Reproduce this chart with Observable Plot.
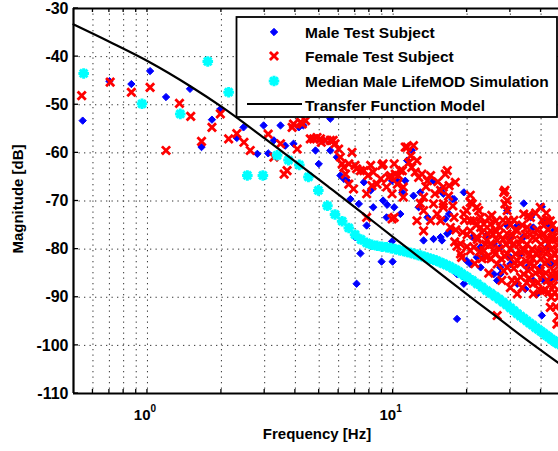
<!DOCTYPE html>
<html><head><meta charset="utf-8">
<script src="https://cdn.jsdelivr.net/npm/d3@7"></script>
<script src="https://cdn.jsdelivr.net/npm/@observablehq/plot@0.6"></script>
<style>html,body{margin:0;padding:0;background:#fff}svg{display:block}</style>
</head><body><div id="chart"></div>
<script>
// ---- data (frequency Hz, magnitude dB) ----
const seriesNames = ["Male Test Subject", "Female Test Subject", "Median Male LifeMOD Simulation", "Transfer Function Model"];
const yTicks = [-110, -100, -90, -80, -70, -60, -50, -40, -30];
const xLabelTicks = [1, 10];
const xLabelExponents = ["0", "1"];
const xGridTicks = [0.6, 0.7, 0.8, 0.9, 1, 2, 3, 4, 5, 6, 7, 8, 9, 10, 20, 30, 40];

const maleSubject = [[0.545,-53.3],[0.70,-45.1],[0.86,-45.7],[1.025,-43.0],[1.19,-48.4],[1.49,-46.7],[1.66,-58.8],[1.83,-53.1],[1.98,-50.9],[2.31,-56.9],[2.46,-54.7],[2.8,-60.2],[2.97,-54.3],[3.1,-60.1],[3.27,-57.4],[3.48,-54.3],[3.64,-58.5],[3.93,-58.1],[4.13,-54.7],[4.31,-54.3],[4.83,-59.5],[4.98,-62.3],[5.2,-57.4],[5.55,-59.5],[5.55,-52.9],[5.9,-60.9],[6.1,-64.7],[6.3,-65.4],[6.5,-65.8],[6.7,-69.6],[7.0,-77.5],[7.1,-87.2],[7.25,-70.6],[7.36,-80.9],[7.6,-66.1],[7.8,-75.1],[8.1,-67.8],[8.3,-71.3],[8.97,-82.6],[9.1,-69.9],[9.4,-73.4],[9.45,-70.8],[9.9,-78.4],[9.95,-82.6],[9.9,-65.8],[10.1,-71.3],[10.4,-65.8],[10.7,-72.7],[10.9,-68.2],[11.2,-65.8],[11.4,-61.6],[11.9,-59.5],[12.1,-68.9],[12.7,-71.3],[12.9,-68.2],[13.3,-78.2],[13.8,-73.4],[14.6,-65.8],[14.6,-77.9],[15.6,-67.8],[15.6,-77.5],[15.8,-78.2],[16.0,-68.5],[16.3,-73.7],[16.6,-76.8],[16.9,-72.7],[17.1,-76.2],[17.4,-69.6],[17.7,-69.6],[18.2,-85.2],[18.2,-94.5],[19.4,-68.2],[19.4,-85.8],[19.4,-87.2],[19.9,-82.4],[20.6,-83.1],[21.0,-77.5],[21.9,-81.7],[22.7,-79.6],[22.7,-83.8],[23.4,-81.7],[24.0,-77.1],[25.7,-78.9],[25.7,-85.2],[26.5,-86.5],[27.3,-79.6],[27.3,-83.8],[27.3,-85.2],[29.1,-72],[29.1,-75.1],[30,-77.5],[30,-81.7],[30,-83.1],[32,-75.1],[32,-87.2],[33,-81],[34,-70.5],[34,-77.5],[34.5,-88.3],[35,-83.8],[36.3,-73.4],[36.6,-73],[37.2,-75.5],[37.2,-86.5],[38.6,-89.3],[39.7,-80.3],[39.7,-83.8],[40.3,-71.2],[40.3,-93.8],[41,-74.1],[41,-86.5],[42.4,-79.6],[43,-74.8],[43.6,-83.1],[43.6,-86.2],[45,-76.2],[45,-83.1],[46.4,-85.8]];

const femaleSubject = [[0.54,-48.1],[0.705,-45.3],[0.86,-47.4],[1.025,-46.4],[1.19,-59.5],[1.35,-49.7],[1.5,-52.4],[1.66,-57.6],[1.83,-54.7],[1.98,-51.9],[2.14,-57.1],[2.31,-56.0],[2.47,-57.8],[2.62,-59.5],[3.1,-56.1],[3.27,-60.9],[3.48,-58.1],[3.6,-64.4],[3.7,-63.7],[3.88,-54.7],[3.93,-54],[4.07,-59.2],[4.2,-53.6],[4.27,-54.0],[4.4,-53.3],[4.6,-57.1],[4.75,-57.1],[4.9,-56.8],[5.06,-57.1],[5.1,-57.8],[5.3,-57.4],[5.55,-57.4],[5.7,-57.4],[5.8,-58.1],[6.0,-59.2],[6.1,-60.9],[6.2,-62.3],[6.3,-63.0],[6.4,-64.4],[6.6,-62.3],[6.6,-66.5],[6.8,-59.9],[6.9,-67.5],[7.0,-62.6],[7.1,-63.3],[7.36,-63.7],[7.6,-63.7],[7.8,-68.5],[7.8,-73.4],[7.9,-64.7],[8.1,-62.6],[8.2,-66.8],[8.3,-64.0],[8.6,-66.5],[8.9,-65.4],[9.0,-62.6],[9.1,-62.3],[9.4,-67.1],[9.6,-65.1],[9.75,-64.7],[9.9,-68.5],[9.9,-73.7],[10.1,-62.3],[10.1,-73.4],[10.2,-64.4],[10.4,-66.5],[10.5,-64.7],[10.7,-63.7],[10.9,-63.7],[11.0,-67.1],[11.0,-69.2],[11.2,-58.8],[11.4,-58.8],[11.6,-62],[11.8,-60.6],[11.9,-63.0],[12.1,-58.5],[12.3,-64],[12.5,-61.6],[12.5,-74.1],[12.7,-65.1],[12.9,-70.5],[13.1,-64.4],[13.3,-69.2],[13.3,-72],[13.3,-76.2],[13.6,-67],[13.8,-65.8],[14.2,-64.7],[14.2,-74.1],[14.6,-70.6],[14.8,-68.5],[15.1,-72.7],[15.2,-66],[15.6,-67.8],[15.6,-74.1],[16.0,-71.3],[16.0,-67.1],[16.0,-70.6],[16.3,-64.4],[16.6,-63.7],[16.8,-69],[16.9,-66.8],[17.1,-75.5],[17.5,-71],[17.7,-73.4],[17.9,-66.1],[18,-76],[18.2,-79.4],[18.8,-78.9],[18.8,-81],[19.0,-81.7],[19.4,-72.7],[19.5,-74],[19.9,-72],[20,-77],[20,-79.5],[20.6,-68.8],[20.6,-70.3],[20.6,-74.1],[20.6,-76.2],[20.6,-80.3],[21.0,-70.6],[21.3,-74.1],[21.3,-79.6],[21.5,-83],[21.9,-71.3],[21.9,-77.5],[22,-78],[22.3,-72],[22.7,-73.4],[22.7,-75.5],[23,-76.5],[23,-82],[23.4,-74.8],[23.4,-80.3],[23.8,-79],[24.0,-78.2],[24.0,-81.7],[24.5,-73.5],[24.5,-85],[24.9,-74.8],[24.9,-76.2],[24.9,-78.9],[25,-82],[25.2,-73],[25.5,-77],[25.7,-80.3],[26,-76],[26,-81],[26.5,-78.2],[26.5,-83.1],[26.5,-93.8],[27,-77],[27,-80],[27.3,-75.5],[27.5,-82],[27.7,-86.5],[28,-74],[28,-78],[28.2,-68.2],[28.2,-84.5],[28.5,-67.8],[28.5,-70.6],[28.8,-79],[29.1,-69.9],[29.1,-72],[29.1,-76.8],[29.1,-81],[29.1,-83.8],[29.5,-74],[30,-75],[30,-80],[30,-88],[30.5,-77],[30.5,-86.5],[31,-74],[31,-78.9],[31,-84],[31.5,-76],[31.5,-81],[32,-76.2],[32,-82.4],[32,-86.5],[32,-89.3],[32.5,-79],[33,-78],[33,-83],[33,-85.8],[33.5,-75],[33.5,-88],[34,-72.7],[34,-80.3],[34,-85.2],[34.5,-77],[34.8,-82.5],[35,-79],[35,-87],[35.1,-75.5],[35.5,-73],[35.5,-84.5],[36,-77],[36,-81],[36.2,-73.4],[36.2,-83.1],[36.8,-80],[37.2,-77.5],[37.2,-87.2],[37.2,-89.3],[37.5,-83.5],[38,-72.5],[38,-78],[38,-85],[38.2,-81],[38.5,-76],[38.8,-87],[39,-80.5],[39.7,-71.3],[39.7,-84.5],[39.7,-88.6],[40,-79],[40,-82],[40.5,-74],[40.8,-80.5],[41,-76.8],[41,-88.6],[41,-75.1],[41.5,-83],[41.8,-85],[42,-72.5],[42,-78],[42.4,-74.1],[42.4,-82.4],[42.4,-86.5],[42.8,-76],[43,-79],[43,-89],[43.3,-87.5],[43.6,-74.1],[43.6,-92.1],[44,-80],[44,-82],[44,-90],[44.5,-75],[44.5,-85.5],[45,-77.5],[45,-84.5],[45,-87.6],[45.5,-81],[45.5,-89],[46,-78],[46,-83],[46,-92],[46.2,-76],[46.4,-80.3],[46.4,-95.6],[46.6,-86],[47,-82],[47,-90],[47,-94],[22.5,-80.5],[24.3,-76.8],[26.2,-74.2],[28.5,-81.5],[29.8,-78.5],[31.2,-82.8],[33.2,-80.6],[35.8,-86],[37,-82],[39.3,-77.3],[40.6,-85.5],[42.5,-80.5],[44.2,-77.6],[45.8,-85],[46.8,-79.2],[19.2,-76.5],[17.8,-78.5],[21.8,-75]];

const lifemodMedian = [[0.55,-43.5],[0.95,-49.8],[1.36,-51.9],[1.76,-41],[2.14,-47.4],[2.55,-64.7],[2.95,-64.7],[3.37,-60.5],[3.75,-61.5],[4.15,-62.5],[4.52,-65],[4.96,-67.8],[5.4,-71],[5.8,-72.8],[6.2,-74.2],[6.6,-75.6],[7.0,-77],[7.4,-78],[7.8,-78.7],[8.2,-79.1],[8.6,-79.3],[9.0,-79.5],[9.4,-79.6],[9.8,-79.8],[10.2,-80],[10.6,-80.2],[11.0,-80.4],[11.4,-80.6],[11.8,-80.8],[12.2,-81],[12.6,-81.2],[13.0,-81.4],[13.4,-81.6],[13.8,-81.8],[14.2,-82],[14.6,-82.2],[15.0,-82.4],[15.5,-82.7],[16.0,-83],[16.5,-83.3],[17.0,-83.6],[17.5,-84],[18.0,-84.3],[18.5,-84.7],[19.0,-85.1],[19.5,-85.5],[20,-85.8],[21,-86.5],[22,-87.2],[23,-87.9],[24,-88.6],[25,-89.2],[26,-89.8],[27,-90.4],[28,-91],[29,-91.6],[30,-92.2],[31,-92.8],[32,-93.4],[33,-93.9],[34,-94.4],[35,-94.9],[36,-95.4],[37,-95.8],[38,-96.3],[39,-96.7],[40,-97.1],[41,-97.5],[42,-97.9],[43,-98.3],[44,-98.7],[45,-99],[46,-99.4],[47,-99.7]];

const transferModel = [[0.5,-33.3],[0.7,-36.9],[1.0,-40.9],[1.5,-46.2],[2.0,-50.4],[3.0,-57.0],[4.0,-61.8],[5.5,-67.2],[7.5,-72.5],[10,-77.5],[13.3,-82.4],[18.2,-87.8],[24.9,-93.1],[34,-98.4],[47.5,-103.8]];

// ---- rendering ----
const rows = arr => arr.map(([f, db]) => ({f, db}));
const font = "'Liberation Sans', Arial, Helvetica, sans-serif";
const BLUE = "#0000ff", RED = "#ff0000", CYAN = "#00ffff";

const star8 = {
  draw(ctx, size) {
    const r = Math.sqrt(size / Math.PI), d = r * 0.72;
    ctx.moveTo(-r, 0); ctx.lineTo(r, 0);
    ctx.moveTo(0, -r); ctx.lineTo(0, r);
    ctx.moveTo(-d, -d); ctx.lineTo(d, d);
    ctx.moveTo(-d, d); ctx.lineTo(d, -d);
  }
};

const plot = Plot.plot({
  width: 558, height: 451,
  marginLeft: 73, marginRight: 0, marginTop: 8, marginBottom: 58,
  style: {fontFamily: font, background: "white", overflow: "visible"},
  x: {type: "log", domain: [0.5, 47.1], axis: null},
  y: {domain: [-110, -30], axis: null},
  marks: [
    Plot.ruleX(xGridTicks, {stroke: "#333", strokeWidth: 1, strokeDasharray: "1.3,4.2"}),
    Plot.ruleY(yTicks, {stroke: "#333", strokeWidth: 1, strokeDasharray: "1.3,4.2"}),
    Plot.dot(rows(maleSubject), {x: "f", y: "db", symbol: "diamond2", r: 3.3, fill: BLUE, stroke: BLUE, strokeWidth: 1}),
    Plot.dot(rows(femaleSubject), {x: "f", y: "db", symbol: "times", r: 3.8, stroke: RED, strokeWidth: 2.8}),
    Plot.dot(rows(lifemodMedian), {x: "f", y: "db", symbol: star8, r: 5.3, stroke: CYAN, strokeWidth: 3}),
    Plot.line(rows(transferModel), {x: "f", y: "db", stroke: "black", strokeWidth: 2.2, curve: "monotone-x"}),
    Plot.ruleY([-30], {stroke: "black", strokeWidth: 2}),
    Plot.ruleY([-110], {stroke: "black", strokeWidth: 2.2}),
    Plot.ruleX([0.5], {stroke: "black", strokeWidth: 2.2}),
    Plot.axisY(yTicks, {anchor: "left", label: null, tickSize: 0, tickPadding: 5, tickFormat: d => String(d),
      fontSize: 16, fontWeight: "bold", fill: "black"})
  ]
});
document.getElementById("chart").appendChild(plot);

const sx = plot.scale("x"), sy = plot.scale("y");
const svg = d3.select(plot);
const yTop = sy.apply(-30), yBot = sy.apply(-110), xLeft = sx.apply(0.5);

// inward ticks
const tk = svg.append("g").attr("stroke", "black").attr("stroke-width", 1.3);
xGridTicks.forEach(v => {
  const x = sx.apply(v);
  tk.append("line").attr("x1", x).attr("x2", x).attr("y1", yBot).attr("y2", yBot - 4);
  tk.append("line").attr("x1", x).attr("x2", x).attr("y1", yTop).attr("y2", yTop + 4);
});
yTicks.forEach(v => {
  const y = sy.apply(v);
  tk.append("line").attr("x1", xLeft).attr("x2", xLeft + 5).attr("y1", y).attr("y2", y);
});

// x tick labels with superscripts
xLabelTicks.forEach((v, i) => {
  const t = svg.append("text").attr("x", sx.apply(v) - 2).attr("y", yBot + 27)
    .attr("text-anchor", "middle").attr("font-family", font).attr("font-weight", "bold")
    .attr("font-size", 15).attr("fill", "black");
  t.append("tspan").text("10");
  t.append("tspan").attr("font-size", 10).attr("dy", -8).text(xLabelExponents[i]);
});

// axis titles
svg.append("text").attr("x", 317).attr("y", 439).attr("text-anchor", "middle")
  .attr("font-family", font).attr("font-weight", "bold").attr("font-size", 15).text("Frequency [Hz]");
svg.append("text").attr("transform", "translate(23,199) rotate(-90)").attr("text-anchor", "middle")
  .attr("font-family", font).attr("font-weight", "bold").attr("font-size", 15).text("Magnitude [dB]");

// legend
const lg = svg.append("g");
lg.append("rect").attr("x", 236.5).attr("y", 17).attr("width", 320.5).attr("height", 100)
  .attr("fill", "white").attr("stroke", "black").attr("stroke-width", 1.8);
const rowsY = [32, 56, 81, 105];
const mx = 274;
lg.append("path").attr("transform", `translate(${mx},${rowsY[0]})`)
  .attr("d", d3.symbol(d3.symbolDiamond2, Math.PI * 10.9)()).attr("fill", BLUE).attr("stroke", BLUE);
lg.append("path").attr("transform", `translate(${mx},${rowsY[1]})`)
  .attr("d", d3.symbol(d3.symbolTimes, Math.PI * 14.4)()).attr("fill", "none").attr("stroke", RED).attr("stroke-width", 2.8);
lg.append("path").attr("transform", `translate(${mx},${rowsY[2]})`)
  .attr("d", d3.symbol(star8, Math.PI * 28)()).attr("fill", "none").attr("stroke", CYAN).attr("stroke-width", 3);
lg.append("line").attr("x1", 247).attr("x2", 302).attr("y1", rowsY[3] - 1).attr("y2", rowsY[3] - 1)
  .attr("stroke", "black").attr("stroke-width", 2.2);
seriesNames.forEach((n, i) => {
  lg.append("text").attr("x", 305).attr("y", rowsY[i]).attr("dy", "0.36em").attr("text-anchor", "start")
    .attr("font-family", font).attr("font-weight", "bold").attr("font-size", 15.5).attr("fill", "black").text(n);
});
</script>
</body></html>
